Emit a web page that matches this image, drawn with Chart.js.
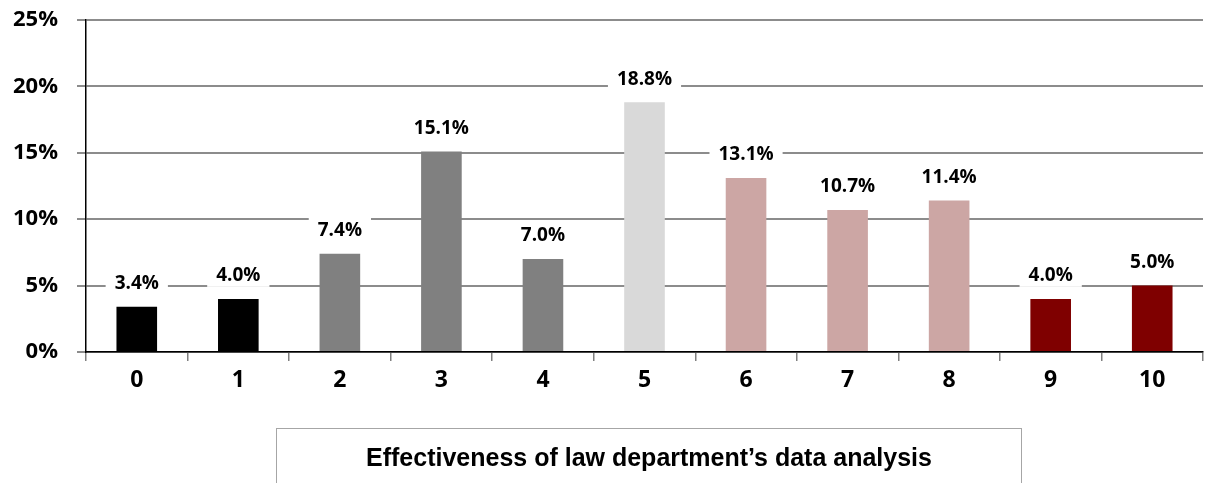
<!DOCTYPE html>
<html>
<head>
<meta charset="utf-8">
<script src="https://cdn.jsdelivr.net/npm/chart.js@4.4.1/dist/chart.umd.min.js"></script>
<style>
  html, body { margin: 0; padding: 0; background: #fff; }
  #wrap { position: relative; width: 1206px; height: 483px; }
  #axis-title {
    position: absolute; left: 276px; top: 428px; width: 746px; height: 56px;
    border: 1px solid #a6a6a6; box-sizing: border-box;
    font: bold 25px "Liberation Sans", Arial, sans-serif; color: #000;
    display: flex; align-items: center; justify-content: center;
    padding-top: 3px;
  }
</style>
</head>
<body>
<div id="wrap">
  <canvas id="chart" width="1206" height="483"></canvas>
  <div id="axis-title">Effectiveness of law department’s data analysis</div>
</div>
<script>
/* ── data ── */
const categories = ['0', '1', '2', '3', '4', '5', '6', '7', '8', '9', '10'];
const shares     = [3.4, 4.0, 7.4, 15.1, 7.0, 18.8, 13.1, 10.7, 11.4, 4.0, 5.0];
const barColors  = ['#000000', '#000000', '#808080', '#808080', '#808080', '#d9d9d9',
                    '#cca6a4', '#cca6a4', '#cca6a4', '#7f0000', '#7f0000'];
const yTicks     = [0, 5, 10, 15, 20, 25];

const FONT = '"Open Sans", "DejaVu Sans", sans-serif';

/* data labels on white boxes above each bar */
const barLabels = {
    id: 'barLabels',
    afterDatasetsDraw(chart) {
        const ctx = chart.ctx;
        const meta = chart.getDatasetMeta(0);
        ctx.save();
        ctx.font = `bold 19px ${FONT}`;
        ctx.textAlign = 'center';
        ctx.textBaseline = 'middle';
        meta.data.forEach((bar, i) => {
            const txt = shares[i].toFixed(1) + '%';
            const y = bar.y - 24;
            const w = ctx.measureText(txt).width + 18;
            ctx.fillStyle = '#fff';
            ctx.fillRect(bar.x - w / 2, y - 12, w, 24);
            ctx.fillStyle = '#000';
            ctx.fillText(txt, bar.x, y + 1);
        });
        ctx.restore();
    }
};

new Chart(document.getElementById('chart'), {
    type: 'bar',
    data: {
        labels: categories,
        datasets: [{
            data: shares,
            backgroundColor: barColors,
            borderWidth: 0,
            barPercentage: 0.4,
            categoryPercentage: 1.0
        }]
    },
    options: {
        responsive: false,
        animation: false,
        layout: { padding: { top: 20, right: 3, left: 0, bottom: 0 } },
        plugins: { legend: { display: false }, tooltip: { enabled: false } },
        scales: {
            x: {
                grid: { drawOnChartArea: false, drawTicks: true, tickLength: 9, offset: true,
                        color: '#808080', lineWidth: 1.5 },
                border: { color: '#000', width: 1.5 },
                ticks: { color: '#000', padding: 6, font: { family: FONT, size: 23, weight: 'bold' } },
                afterFit: s => { s.height = 131; s.paddingLeft = 0; s.paddingRight = 0; }
            },
            y: {
                min: 0, max: 25,
                afterBuildTicks: s => { s.ticks = yTicks.map(v => ({ value: v })); },
                grid: { color: '#8c8c8c', lineWidth: 2, tickLength: 9 },
                border: { color: '#000', width: 1.5 },
                ticks: { color: '#000', padding: 19, callback: v => v + '%',
                         font: { family: FONT, size: 22, weight: 'bold' } },
                afterFit: s => { s.width = 86; s.paddingTop = 0; s.paddingBottom = 0; }
            }
        }
    },
    plugins: [barLabels]
});
</script>
</body>
</html>
